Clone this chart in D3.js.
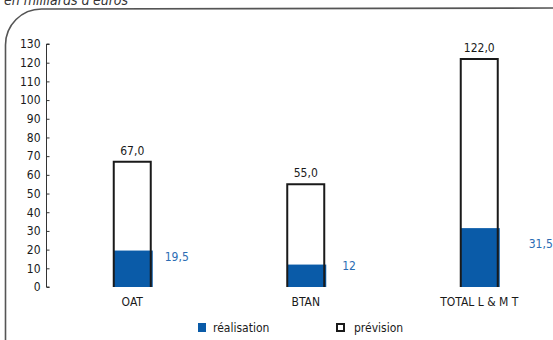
<!DOCTYPE html>
<html>
<head>
<meta charset="utf-8">
<script src="https://cdn.jsdelivr.net/npm/d3@7"></script>
<style>
  html, body { margin: 0; padding: 0; background: #fff; }
  svg { display: block; }
  text { font-family: "DejaVu Sans Condensed", "DejaVu Sans", sans-serif; font-stretch: condensed; fill: #1a1a1a; }
</style>
</head>
<body>
<svg id="chart" width="553" height="340"></svg>
<script>
// Emissions de l'Etat : réalisation vs prévision (milliards d'euros)
const categories = ["OAT", "BTAN", "TOTAL L & M T"];
const prevision = [67.0, 55.0, 122.0];
const realisation = [19.5, 12, 31.5];
const previsionLabels = ["67,0", "55,0", "122,0"];
const realisationLabels = ["19,5", "12", "31,5"];
const yTicks = [0, 10, 20, 30, 40, 50, 60, 70, 80, 90, 100, 110, 120, 130];
const legendItems = ["réalisation", "prévision"];

const BLUE = "#0a5ba8";
const BLUE_TEXT = "#2b6cb3";

const svg = d3.select("#chart");

// unit caption, sitting just above the frame
svg.append("text")
  .attr("x", 4).attr("y", 5)
  .attr("font-size", 14)
  .attr("font-style", "italic")
  .style("fill", "#333")
  .text("en milliards d'euros");

// rounded frame open at the right and the bottom
const r = 36;
svg.append("path")
  .attr("d", `M5.5,345 L5.5,${9 + r} A${r},${r} 0 0 1 ${5.5 + r},9 L560,8`)
  .attr("fill", "none")
  .attr("stroke", "#555")
  .attr("stroke-width", 1.6);

// scales
const y = d3.scaleLinear().domain([0, 130]).range([287, 44]);
const x = d3.scaleBand().domain(categories).range([45.5, 566]).padding(0);
const barW = 37;
const cx = c => x(c) + x.bandwidth() / 2;

// y axis, ticks pointing inward
const yAxis = d3.axisRight(y).tickValues(yTicks).tickSize(3).tickFormat(d3.format("d"));
const gy = svg.append("g").attr("transform", "translate(46.5,0)").call(yAxis);
gy.select(".domain").attr("stroke", "#333").attr("d", `M3,${y(130)}H0V${y(0)}H3`);
gy.selectAll(".tick line").attr("stroke", "#333");
gy.selectAll(".tick text")
  .attr("x", -6)
  .attr("text-anchor", "end")
  .attr("font-size", 12)
  .attr("font-family", null)
  .style("fill", "#1a1a1a");

// x axis labels
const gx = svg.append("g").attr("transform", `translate(0,${y(0)})`)
  .call(d3.axisBottom(x).tickSize(0).tickPadding(0));
gx.select(".domain").remove();
gx.selectAll(".tick text")
  .attr("y", 19)
  .attr("dy", 0)
  .attr("font-size", 12)
  .attr("font-family", null)
  .style("fill", "#1a1a1a");

const data = categories.map((c, i) => ({
  c, p: prevision[i], r: realisation[i], pl: previsionLabels[i], rl: realisationLabels[i]
}));

// realisation fill
svg.append("g").selectAll("rect").data(data).join("rect")
  .attr("x", d => cx(d.c) - barW / 2)
  .attr("y", d => y(d.r))
  .attr("width", barW + 2)
  .attr("height", d => y(0) - y(d.r))
  .attr("fill", BLUE);

// prevision outline (left, top, right sides)
svg.append("g").selectAll("path").data(data).join("path")
  .attr("d", d => {
    const x0 = cx(d.c) - barW / 2, x1 = cx(d.c) + barW / 2;
    return `M${x0},${y(0)}V${y(d.p)}H${x1}V${y(0)}`;
  })
  .attr("fill", "none")
  .attr("stroke", "#1a1a1a")
  .attr("stroke-width", 2);

// prevision value labels
svg.append("g").selectAll("text").data(data).join("text")
  .attr("x", d => cx(d.c))
  .attr("y", d => y(d.p) - 7)
  .attr("text-anchor", "middle")
  .attr("font-size", 12)
  .text(d => d.pl);

// realisation value labels, set beside each bar
const realNudge = [[14, 10], [18, 5], [31, 20]];
svg.append("g").selectAll("text").data(data).join("text")
  .attr("x", (d, i) => cx(d.c) + barW / 2 + realNudge[i][0])
  .attr("y", (d, i) => y(d.r) + realNudge[i][1])
  .attr("font-size", 12)
  .style("fill", BLUE_TEXT)
  .text(d => d.rl);

// legend
const lg = svg.append("g");
lg.append("rect").attr("x", 198).attr("y", 323).attr("width", 8).attr("height", 9).attr("fill", BLUE);
lg.append("text").attr("x", 213).attr("y", 332).attr("font-size", 12).text(legendItems[0]);
lg.append("rect").attr("x", 337).attr("y", 324).attr("width", 7).attr("height", 7)
  .attr("fill", "#fff").attr("stroke", "#1a1a1a").attr("stroke-width", 2);
lg.append("text").attr("x", 354).attr("y", 332).attr("font-size", 12).text(legendItems[1]);
</script>
</body>
</html>
